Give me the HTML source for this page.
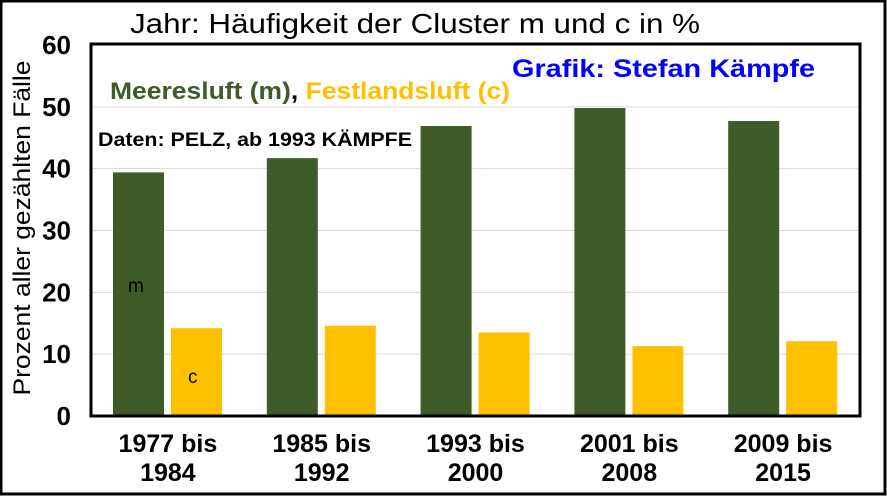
<!DOCTYPE html>
<html><head><meta charset="utf-8"><style>
body{margin:0;background:#fff}
svg text{font-family:"Liberation Sans",Arial,sans-serif}
</style></head><body>
<svg width="887" height="496" xmlns="http://www.w3.org/2000/svg">
<rect x="1" y="1" width="884" height="493" fill="#fff" stroke="#000" stroke-width="3"/>
<g id="grid"></g>
<g id="bars"></g>
<rect x="91" y="44" width="769" height="372" fill="none" stroke="#000" stroke-width="3"/>
<g id="yticks" font-size="26" font-weight="bold" text-anchor="end"></g>
<g id="xlabels" font-size="25" font-weight="bold" text-anchor="middle"></g>
<text x="130" y="33" font-size="28" textLength="570" lengthAdjust="spacingAndGlyphs">Jahr: Häufigkeit der Cluster m und c in %</text>
<text transform="translate(30,228) rotate(-90)" font-size="24" text-anchor="middle" textLength="335" lengthAdjust="spacingAndGlyphs">Prozent aller gezählten Fälle</text>
<text x="110" y="99" font-size="24" font-weight="bold" textLength="400" lengthAdjust="spacingAndGlyphs"><tspan fill="#3e5b28">Meeresluft (m)</tspan><tspan fill="#000">, </tspan><tspan fill="#ffc000">Festlandsluft (c)</tspan></text>
<text x="512" y="77" font-size="25" font-weight="bold" fill="#0000ff" textLength="303" lengthAdjust="spacingAndGlyphs">Grafik: Stefan Kämpfe</text>
<text x="98" y="146" font-size="19" font-weight="bold" textLength="314" lengthAdjust="spacingAndGlyphs">Daten: PELZ, ab 1993 KÄMPFE</text>
<text x="128" y="292" font-size="19">m</text>
<text x="188" y="383" font-size="19">c</text>
</svg>
<script>
const categories=[["1977 bis","1984"],["1985 bis","1992"],["1993 bis","2000"],["2001 bis","2008"],["2009 bis","2015"]];
const mValues=[39.4,41.7,46.9,49.8,47.7];
const cValues=[14.2,14.6,13.5,11.3,12.1];
const yTicks=[0,10,20,30,40,50,60];
const NS="http://www.w3.org/2000/svg";
const x0=91,pw=769,y0=416,ph=371,ymax=60;
const y=v=>y0-v/ymax*ph;
const cw=pw/categories.length;
function mk(t,a,p){const e=document.createElementNS(NS,t);for(const k in a)e.setAttribute(k,a[k]);p.appendChild(e);return e;}
const grid=document.getElementById('grid'),bars=document.getElementById('bars'),yt=document.getElementById('yticks'),xl=document.getElementById('xlabels');
yTicks.forEach(t=>{
 if(t>0&&t<60){const l=mk('line',{x1:x0,x2:x0+pw,y1:y(t),y2:y(t),stroke:'#d9d9d9','stroke-width':1},grid);
 
 }
 const tx=mk('text',{x:71,y:y(t)+9},yt);tx.textContent=t;
 
 
});
categories.forEach((c,i)=>{
 const cx=x0+i*cw;
 const m=mk('rect',{x:cx+22,y:y(mValues[i]),width:51,height:y0-y(mValues[i]),fill:'#3e5b28'},bars);
 
 
 const b=mk('rect',{x:cx+80,y:y(cValues[i]),width:51,height:y0-y(cValues[i]),fill:'#ffc000'},bars);
 
 
 const t=mk('text',{x:cx+cw/2,y:452},xl);
 
 
 mk('tspan',{x:cx+cw/2,dy:0},t).textContent=c[0];
 mk('tspan',{x:cx+cw/2,dy:29},t).textContent=c[1];
});
</script>
</body></html>
